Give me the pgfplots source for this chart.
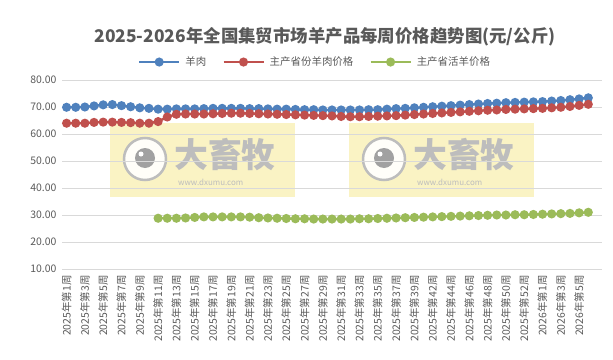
\documentclass[border=0pt]{standalone}
\usepackage{pgfplots}
\pgfplotsset{compat=1.18}
\usepackage{fontspec}
\setmainfont{Noto Sans CJK SC}
\definecolor{cblue}{HTML}{4F81BD}
\definecolor{cred}{HTML}{C0504D}
\definecolor{cgreen}{HTML}{9BBB59}
\definecolor{txt}{HTML}{595959}
\definecolor{grd}{HTML}{D9D9D9}
\definecolor{wm}{HTML}{FAF3C4}
\definecolor{wmg}{HTML}{BDBDBD}
\newcommand{\wmark}[1]{%
  \fill[wm] (#1,162) rectangle ++(185,74);
  \draw[wmg, line width=2.5bp, fill=white!90!wm] (#1+35,200) circle (21);
  \fill[wmg!85!black] (#1+35,201) circle (10);
  \fill[white] (#1+31,205) circle (2.5);
  \node[anchor=west, text=wmg, font=\fontsize{34}{34}\selectfont\bfseries, inner sep=0] at (#1+64,204) {大畜牧};
  \node[anchor=west, text=wmg, font=\fontsize{8}{8}\selectfont, inner sep=0] at (#1+68,177) {www.dxumu.com};
}
\pgfplotstableread{
x y
0 69.9
1 69.9
2 70.0
3 70.4
4 70.8
5 70.9
6 70.5
7 70.1
8 69.7
9 69.5
10 69.2
11 69.2
12 69.3
13 69.3
14 69.3
15 69.4
16 69.5
17 69.5
18 69.5
19 69.5
20 69.4
21 69.4
22 69.3
23 69.2
24 69.2
25 69.1
26 69.0
27 69.0
28 68.9
29 68.9
30 68.9
31 68.9
32 68.9
33 69.0
34 69.0
35 69.2
36 69.4
37 69.5
38 69.7
39 69.9
40 70.1
41 70.3
42 70.5
43 70.7
44 70.9
45 71.1
46 71.3
47 71.4
48 71.6
49 71.7
50 71.8
51 71.9
52 72.0
53 72.2
54 72.4
55 72.7
56 73.0
57 73.4
}\muttondata
\pgfplotstableread{
x y
0 64.0
1 64.0
2 64.0
3 64.3
4 64.4
5 64.4
6 64.3
7 64.2
8 64.0
9 64.0
10 64.6
11 66.3
12 67.3
13 67.4
14 67.4
15 67.4
16 67.5
17 67.6
18 67.7
19 67.7
20 67.6
21 67.5
22 67.4
23 67.3
24 67.2
25 67.1
26 67.0
27 66.9
28 66.8
29 66.7
30 66.5
31 66.4
32 66.4
33 66.5
34 66.6
35 66.7
36 66.8
37 67.0
38 67.2
39 67.4
40 67.6
41 67.8
42 68.0
43 68.2
44 68.4
45 68.6
46 68.8
47 68.9
48 69.1
49 69.2
50 69.3
51 69.4
52 69.5
53 69.7
54 69.9
55 70.2
56 70.6
57 71.0
}\maindata
\pgfplotstableread{
x y
10 28.8
11 28.8
12 28.8
13 28.9
14 29.1
15 29.3
16 29.3
17 29.3
18 29.3
19 29.3
20 29.2
21 29.0
22 28.9
23 28.8
24 28.7
25 28.6
26 28.6
27 28.5
28 28.5
29 28.5
30 28.5
31 28.5
32 28.6
33 28.6
34 28.7
35 28.8
36 28.9
37 29.0
38 29.1
39 29.2
40 29.3
41 29.4
42 29.5
43 29.6
44 29.7
45 29.8
46 29.9
47 30.0
48 30.0
49 30.1
50 30.1
51 30.2
52 30.3
53 30.4
54 30.5
55 30.6
56 30.8
57 31.0
}\sheepdata
\begin{document}
\begin{tikzpicture}[x=1bp,y=1bp]
\useasboundingbox (0,0) rectangle (613,359);
\node[text=txt, font=\fontsize{17.5}{18}\selectfont\bfseries] at (325,322) {2025-2026年全国集贸市场羊产品每周价格趋势图(元/公斤)};
\wmark{110}
\wmark{349}
\begin{axis}[
  at={(62bp,90bp)}, anchor=south west,
  scale only axis, width=540bp, height=189bp,
  xmin=-0.5, xmax=58.5, ymin=10, ymax=80,
  ytick={10,20,...,80},
  yticklabel={\pgfmathprintnumber[fixed,fixed zerofill,precision=2,assume math mode=true]{\tick}},
  yticklabel style={font=\fontsize{10.5}{12}\selectfont, text=txt, xshift=-2bp},
  xtick={0,2,...,56},
  xticklabels={2025年第1周,2025年第3周,2025年第5周,2025年第7周,2025年第9周,2025年第11周,2025年第13周,2025年第15周,2025年第17周,2025年第19周,2025年第21周,2025年第23周,2025年第25周,2025年第27周,2025年第29周,2025年第31周,2025年第33周,2025年第35周,2025年第37周,2025年第39周,2025年第42周,2025年第44周,2025年第46周,2025年第48周,2025年第50周,2025年第52周,2026年第1周,2026年第3周,2026年第5周},
  xticklabel style={rotate=90, anchor=east, font=\fontsize{10.5}{12}\selectfont, text=txt, xshift=-3bp},
  major tick length=0pt,
  axis line style={draw=none},
  ymajorgrids, grid style={grd, line width=0.8bp},
  legend style={at={(0.4685,1.095)}, anchor=center, draw=none, fill=none,
    legend columns=-1, font=\fontsize{10.5}{12}\selectfont, text=txt,
    /tikz/every odd column/.append style={column sep=3bp},
    /tikz/every even column/.append style={column sep=14bp}},
  legend image code/.code={\draw[mark repeat=2, mark phase=2] plot coordinates {(0bp,0bp) (20bp,0bp) (40bp,0bp)};},
  every axis plot/.append style={line width=2.4bp, mark=*, mark size=3.3bp, mark options={solid}},
]
\addplot[cblue, mark options={fill=cblue, draw=cblue}] table[x=x,y=y] {\muttondata};
\addlegendentry{羊肉}
\addplot[cred, mark options={fill=cred, draw=cred}] table[x=x,y=y] {\maindata};
\addlegendentry{主产省份羊肉价格}
\addplot[cgreen, mark options={fill=cgreen, draw=cgreen}] table[x=x,y=y] {\sheepdata};
\addlegendentry{主产省活羊价格}
\end{axis}
\end{tikzpicture}
\end{document}
